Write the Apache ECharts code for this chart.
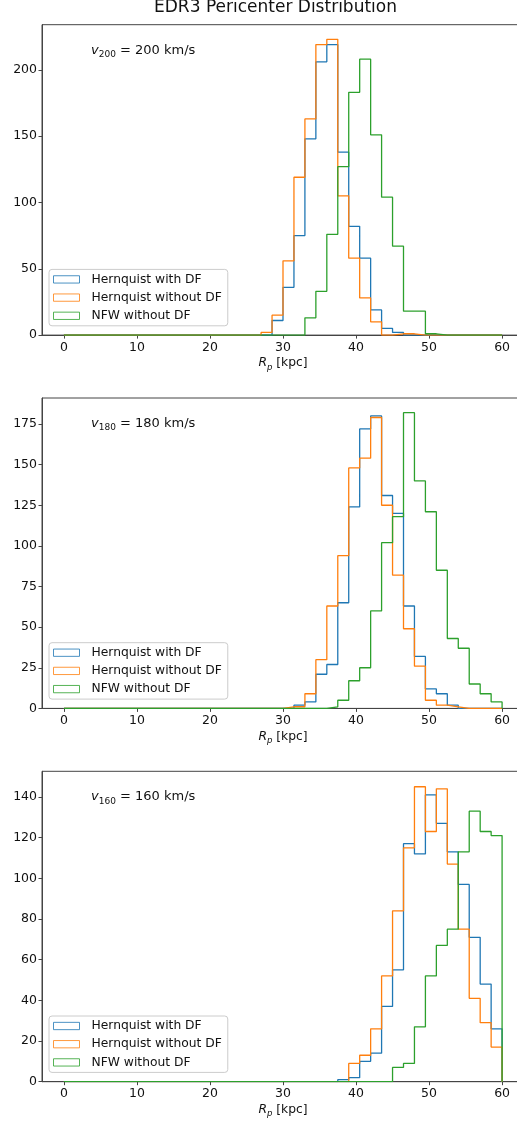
<!DOCTYPE html>
<html><head><meta charset="utf-8">
<script src="https://cdn.jsdelivr.net/npm/echarts@6/dist/echarts.min.js"></script>
<style>html,body{margin:0;padding:0;background:#fff}#c{width:517px;height:1124px}</style>
</head><body><div id="c"></div>
<script>
// ---- data ----
const chartTitle = 'EDR3 Pericenter Distribution';
const seriesNames = ['Hernquist with DF', 'Hernquist without DF', 'NFW without DF'];
const panelVelocities = ['200', '180', '160'];
const binEdges = [0,1.5,3,4.5,6,7.5,9,10.5,12,13.5,15,16.5,18,19.5,21,22.5,24,25.5,27,28.5,
                  30,31.5,33,34.5,36,37.5,39,40.5,42,43.5,45,46.5,48,49.5,51,52.5,54,55.5,57,58.5,60];
const xTicks = [0,10,20,30,40,50,60];
const yTicks200 = [0,50,100,150,200];
const yTicks180 = [0,25,50,75,100,125,150,175];
const yTicks160 = [0,20,40,60,80,100,120,140];

const hernDF200 = [0,0,0,0,0,0,0,0,0,0, 0,0,0,0,0,0,0,0,0,11, 36,75,148,206,219,138,82,58,19,5, 2,0,0,0,0,0,0,0,0,0];
const hernNoDF200 = [0,0,0,0,0,0,0,0,0,0, 0,0,0,0,0,0,0,0,2,15, 56,119,163,219,223,105,58,28,10,0, 1,1,0,0,0,0,0,0,0,0];
const nfw200 = [0,0,0,0,0,0,0,0,0,0, 0,0,0,0,0,0,0,0,0,0, 0,0,13,33,76,127,183,208,151,104, 67,18,18,1,0,0,0,0,0,0];

const hernDF180 = [0,0,0,0,0,0,0,0,0,0, 0,0,0,0,0,0,0,0,0,0, 0,2,4,21,27,65,124,172,180,131, 120,63,32,12,9,2,0,0,0,0];
const hernNoDF180 = [0,0,0,0,0,0,0,0,0,0, 0,0,0,0,0,0,0,0,0,0, 1,1,9,30,63,94,148,154,179,125, 82,49,26,5,2,1,0,0,0,0];
const nfw180 = [0,0,0,0,0,0,0,0,0,0, 0,0,0,0,0,0,0,0,0,0, 0,0,0,0,1,5,17,25,60,102, 118,182,140,121,85,43,37,15,9,4];

const hernDF160 = [0,0,0,0,0,0,0,0,0,0, 0,0,0,0,0,0,0,0,0,0, 0,0,0,0,0,1,2,10,14,37, 55,117,112,141,127,113,97,71,48,26];
const hernNoDF160 = [0,0,0,0,0,0,0,0,0,0, 0,0,0,0,0,0,0,0,0,0, 0,0,0,0,0,0,9,13,26,52, 84,115,145,123,144,107,75,41,29,17];
const nfw160 = [0,0,0,0,0,0,0,0,0,0, 0,0,0,0,0,0,0,0,0,0, 0,0,0,0,0,0,0,0,0,0, 7,9,27,52,67,75,113,133,123,121];

// ---- layout / style ----
const colors = ['#1f77b4', '#ff7f0e', '#2ca02c'];
const FONT = 'DejaVu Sans';
const panels = [
  {v: panelVelocities[0], yMax: 234, yTicks: yTicks200, data: [hernDF200, hernNoDF200, nfw200], top: 24.7},
  {v: panelVelocities[1], yMax: 191, yTicks: yTicks180, data: [hernDF180, hernNoDF180, nfw180], top: 398.0},
  {v: panelVelocities[2], yMax: 152.6, yTicks: yTicks160, data: [hernDF160, hernNoDF160, nfw160], top: 771.3}
];
const H = 310.4, L = 42, W = 482;
const axisCol = '#444';

function stepData(counts) {
  const d = counts.map((c, i) => [binEdges[i], c]);
  d.push([binEdges[binEdges.length - 1], 0]);
  return d;
}

const grid = [], xAxis = [], yAxis = [], series = [], legend = [], title = [];
panels.forEach((p, k) => {
  grid.push({left: L, top: p.top, width: W, height: H, show: true, borderColor: axisCol, borderWidth: 1,
             backgroundColor: 'transparent', outerBoundsMode: 'none', containLabel: false});
  xAxis.push({
    gridIndex: k, type: 'value', min: -3, max: 63,
    axisLine: {show: true, onZero: false, lineStyle: {color: axisCol, width: 1}},
    axisTick: {show: true, length: 3.5, customValues: xTicks, lineStyle: {color: axisCol, width: 1}},
    axisLabel: {customValues: xTicks, margin: 6, fontSize: 12.5, color: '#111', fontFamily: FONT},
    splitLine: {show: false},
    name: '{i|R}{s|p}{n| [kpc]}', nameLocation: 'middle', nameGap: 19,
    nameTextStyle: {rich: {
      i: {fontStyle: 'italic', fontSize: 12.3, fontFamily: FONT, color: '#111', lineHeight: 18},
      s: {fontStyle: 'italic', fontSize: 8.6, fontFamily: FONT, color: '#111', verticalAlign: 'bottom', lineHeight: 10},
      n: {fontSize: 12.3, fontFamily: FONT, color: '#111', lineHeight: 18}
    }}
  });
  yAxis.push({
    gridIndex: k, type: 'value', min: 0, max: p.yMax,
    axisLine: {show: true, onZero: false, lineStyle: {color: axisCol, width: 1}},
    axisTick: {show: true, length: 3.5, customValues: p.yTicks, lineStyle: {color: axisCol, width: 1}},
    axisLabel: {customValues: p.yTicks, margin: 5, fontSize: 12.5, color: '#111', fontFamily: FONT},
    splitLine: {show: false}
  });
  p.data.forEach((counts, j) => {
    series.push({
      name: seriesNames[j], type: 'line', xAxisIndex: k, yAxisIndex: k,
      step: 'end', symbol: 'none', silent: true, animation: false,
      lineStyle: {color: colors[j], width: 1.3}, itemStyle: {color: colors[j]},
      data: stepData(counts), z: 2 + j
    });
  });
  legend.push({
    left: 49, top: p.top + H - 65.7, orient: 'vertical', selectedMode: false,
    data: seriesNames.map((n, j) => ({name: n, icon: 'rect',
      itemStyle: {color: 'rgba(255,255,255,0)', borderColor: colors[j], borderWidth: 1, opacity: 0.8}})),
    itemWidth: 26, itemHeight: 7.3, itemGap: 6.2, padding: [4, 6, 4, 4],
    backgroundColor: 'rgba(255,255,255,0.8)', borderColor: '#cccccc', borderWidth: 1, borderRadius: 3,
    formatter: n => '{a|' + n + '}',
    textStyle: {rich: {a: {padding: [0, 0, 0, 7], fontSize: 12.3, fontFamily: FONT, color: '#111', lineHeight: 13}}}
  });
  title.push({
    left: 91, top: p.top + 16.6, padding: 0,
    text: '{v|v}{s|' + p.v + '}{n| = ' + p.v + ' km/s}',
    textStyle: {fontWeight: 'normal', rich: {
      v: {fontStyle: 'italic', fontWeight: 'normal', fontSize: 13, fontFamily: FONT, color: '#111', lineHeight: 18},
      s: {fontWeight: 'normal', fontSize: 9, fontFamily: FONT, color: '#111', verticalAlign: 'bottom', lineHeight: 10},
      n: {fontWeight: 'normal', fontSize: 13, fontFamily: FONT, color: '#111', lineHeight: 18}
    }}
  });
});

const chart = echarts.init(document.getElementById('c'), null, {renderer: 'canvas'});
chart.setOption({
  animation: false,
  backgroundColor: '#ffffff',
  grid, xAxis, yAxis, series, legend, title,
  graphic: [{
    type: 'text', x: 275.5, y: 7.5, silent: true,
    style: {text: chartTitle, font: '17px "DejaVu Sans"', fill: '#111',
            align: 'center', verticalAlign: 'middle', textAlign: 'center', textVerticalAlign: 'middle'}
  }]
});
</script>
</body></html>
